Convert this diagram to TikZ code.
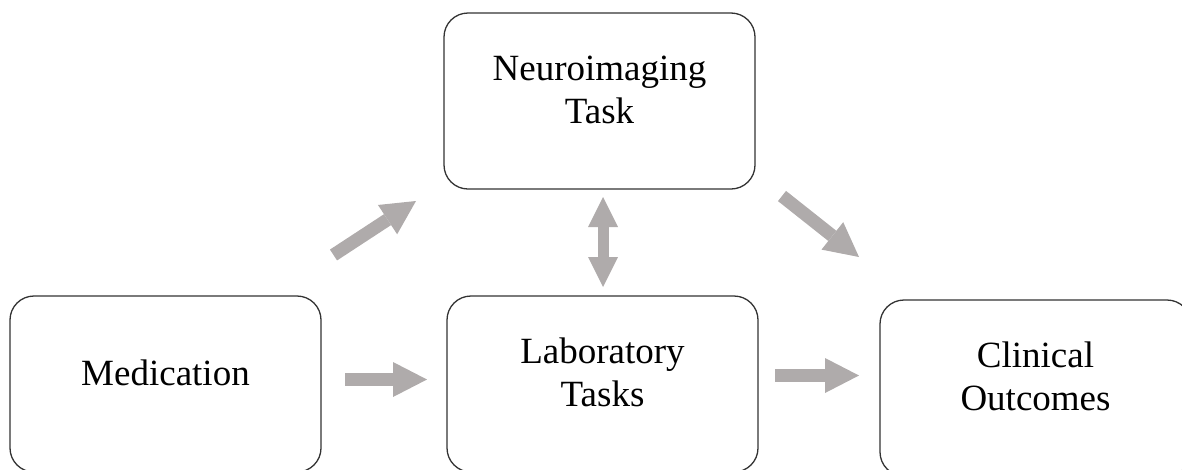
\documentclass[tikz,border=0pt]{standalone}
\usepackage{fontspec}
\setmainfont{Liberation Serif}
\usetikzlibrary{arrows.meta, positioning}

\definecolor{arrowgray}{RGB}{175,171,171}

\begin{document}
\begin{tikzpicture}[x=1pt, y=-1pt,
    stage/.style={draw=black!80, line width=1.3pt, rounded corners=24pt,
      minimum width=311pt, minimum height=176pt, inner sep=0pt, outer sep=0pt},
    boxtext/.style={font=\fontsize{37}{43}\selectfont, align=center, yshift=11.5pt},
    fat/.style={draw=arrowgray, line width=13pt,
      -{Triangle[length=34pt, width=35pt, line width=0pt]}},
    fatboth/.style={draw=arrowgray, line width=11pt,
      {Triangle[length=30pt, width=30pt, line width=0pt]}-{Triangle[length=30pt, width=30pt, line width=0pt]}}]

  \useasboundingbox (0,0) rectangle (1182,469);
  \clip (0,0) rectangle (1182,469);

% define the boxes
  \node[stage] (med) at (165.5,384) {};
  \node[stage] (lab) [right=126pt of med] {};
  \node[stage] (neuro) [above=107pt of lab, xshift=-3pt] {};
  \node[stage] (clin) [right=122pt of lab, yshift=-4pt] {};

% the texts, a bit above the middle
  \node[boxtext] (medtxt) at (med) {Medication};
  \node[boxtext] (labtxt) at (lab) {Laboratory\\Tasks};
  \node[boxtext] (neurotxt) at (neuro) {Neuroimaging\\Task};
  \node[boxtext] (clintxt) at (clin) {Clinical\\Outcomes};

% define the arrows
  \draw[fat, shorten <=24pt, shorten >=20pt]
    ([yshift=4.5pt]med.east) -- ([yshift=4.5pt]med.east -| lab.west);
  \draw[fat, shorten <=17pt, shorten >=21pt]
    ([yshift=8.5pt]lab.east) -- ([yshift=8.5pt]lab.east -| clin.west);
  \draw[fat] ([shift={(12.5,-41)}]med.north east) -- ([shift={(-28,12)}]neuro.south west);
  \draw[fat] ([shift={(27,7)}]neuro.south east) -- ([shift={(-21,-43)}]clin.north west);
  \draw[fatboth, shorten <=9pt, shorten >=8pt]
    ([xshift=0.5pt]lab.north) -- ([xshift=0.5pt]lab.north |- neuro.south);

\end{tikzpicture}
\end{document}
